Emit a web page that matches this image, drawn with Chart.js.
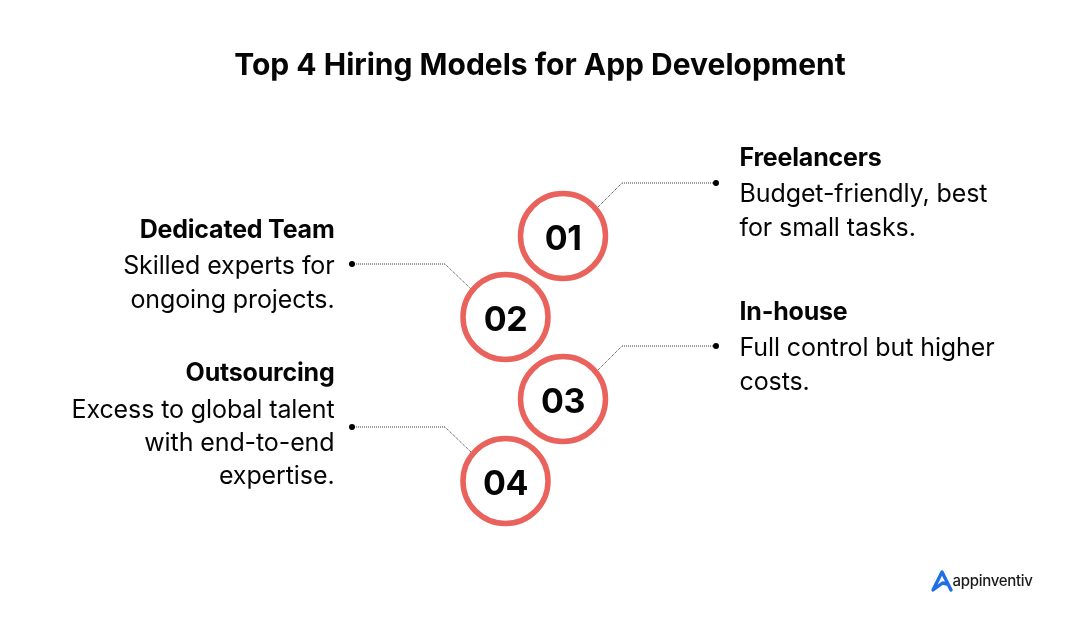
<!DOCTYPE html>
<html><head><meta charset="utf-8">
<script src="https://cdn.jsdelivr.net/npm/chart.js@4"></script>
<style>html,body{margin:0;padding:0;background:#fff}#w{width:1080px;height:630px}</style>
</head><body><div id="w"><canvas id="c"></canvas></div>
<script>
const titleText = "Top 4 Hiring Models for App Development";
const stepLabels = ["01","02","03","04"];
const stepX = [563,505.5,563,505.5];
const stepY = [236,317,399,481];
const leader1 = [{x:598,y:207},{x:622,y:183},{x:716,y:183}];
const leader2 = [{x:471,y:289},{x:445,y:264},{x:352,y:264}];
const leader3 = [{x:598,y:370},{x:622,y:346},{x:716,y:346}];
const leader4 = [{x:471,y:452},{x:445,y:427},{x:352,y:427}];
const headings = ["Freelancers","Dedicated Team","In-house","Outsourcing"];
const headingX = [739.5,334.5,739.5,334.5];
const headingY = [158,230,312,373];
const bodies = [
  ["Budget-friendly, best","for small tasks."],
  ["Skilled experts for","ongoing projects."],
  ["Full control but higher","costs."],
  ["Excess to global talent","with end-to-end","expertise."]
];
const bodyY = [[194,228],[266,300],[348,382],[410,443,476]];
const logoMark = [{x:951,y:590},{x:942,y:572},{x:933,y:590},{x:942.5,y:583},{x:947,y:584}];
const FONT = "Inter, 'Open Sans', sans-serif";
const RED = "#e9625c", INK = "#050505";

const textPlugin = {
  id:"textPlugin",
  afterDatasetsDraw(chart){
    const {ctx,scales:{x,y}} = chart;
    ctx.save(); ctx.fillStyle = INK; ctx.textBaseline = "middle";
    ctx.textAlign = "center"; ctx.font = "700 34px "+FONT; ctx.letterSpacing="-0.5px";
    stepLabels.forEach((t,i)=>ctx.fillText(t,x.getPixelForValue(stepX[i]),y.getPixelForValue(stepY[i]+3.5)));
    headings.forEach((t,i)=>{
      ctx.textAlign = headingX[i] < 540 ? "right" : "left";
      ctx.font = "700 25px "+FONT; ctx.letterSpacing="-0.2px";
      ctx.fillText(t,x.getPixelForValue(headingX[i]),y.getPixelForValue(headingY[i]));
      ctx.font = "400 25px "+FONT; ctx.letterSpacing="-0.1px";
      bodies[i].forEach((l,j)=>ctx.fillText(l,x.getPixelForValue(headingX[i]),y.getPixelForValue(bodyY[i][j])));
    });
    ctx.textAlign="left"; ctx.font="500 15px "+FONT; ctx.fillStyle="#1a1a1a"; ctx.letterSpacing="-0.3px";
    ctx.fillText("appinventiv",x.getPixelForValue(952.5),y.getPixelForValue(581));
    ctx.restore();
  }
};
const leaderDs = pts => ({type:"line",data:pts,borderColor:"#333",borderWidth:1,borderDash:[1,1],fill:false,tension:0,order:3,
  pointRadius:[0,0,3],pointBackgroundColor:"#000",pointBorderWidth:0});
new Chart(document.getElementById("c"),{
  data:{datasets:[
    leaderDs(leader1),leaderDs(leader2),leaderDs(leader3),leaderDs(leader4),
    {type:"line",data:logoMark,borderColor:"#1f6fe6",borderWidth:3.4,fill:false,tension:0,pointRadius:0,order:2,borderJoinStyle:"round",borderCapStyle:"round"},
    {type:"scatter",data:stepX.map((v,i)=>({x:v,y:stepY[i]})),order:1,pointRadius:42.5,pointBackgroundColor:"#fff",pointBorderColor:RED,pointBorderWidth:5.5}
  ]},
  options:{
    responsive:true,maintainAspectRatio:false,animation:false,
    layout:{padding:0,autoPadding:false},
    events:[],
    plugins:{legend:{display:false},tooltip:{enabled:false},
      title:{display:true,text:titleText,color:INK,align:"center",font:{family:FONT,size:30,weight:"700",lineHeight:1.2},padding:{top:48,bottom:0}}},
    scales:{
      x:{type:"linear",display:false,min:0,max:1080},
      y:{type:"linear",display:false,reverse:true,min:84,max:630}
    }
  },
  plugins:[textPlugin]
});
</script></body></html>
